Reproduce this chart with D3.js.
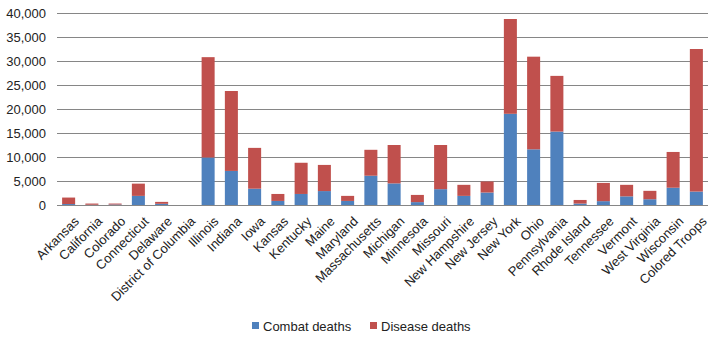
<!DOCTYPE html>
<html>
<head>
<meta charset="utf-8">
<script src="https://cdn.jsdelivr.net/npm/d3@7"></script>
<style>
  body { margin: 0; background: #fff; }
  svg { display: block; font-family: "Liberation Sans", Arial, sans-serif; }
</style>
</head>
<body>
<div class="chart"></div>
<script>
// states / groups along the x axis
const states = ["Arkansas", "California", "Colorado", "Connecticut", "Delaware",
  "District of Columbia", "Illinois", "Indiana", "Iowa", "Kansas", "Kentucky",
  "Maine", "Maryland", "Massachusetts", "Michigan", "Minnesota", "Missouri",
  "New Hampshire", "New Jersey", "New York", "Ohio", "Pennsylvania",
  "Rhode Island", "Tennessee", "Vermont", "West Virginia", "Wisconsin",
  "Colored Troops"];

// values
const combatDeaths = [200, 50, 100, 1900, 250, 0, 9900, 7100, 3400, 850, 2300,
  2900, 850, 6100, 4500, 600, 3300, 1900, 2600, 19000, 11600, 15300, 300, 800,
  1800, 1200, 3600, 2800];
const diseaseDeaths = [1350, 250, 200, 2550, 400, 0, 20900, 16650, 8500, 1450,
  6500, 5450, 1050, 5400, 8000, 1500, 9200, 2300, 2300, 19750, 19300, 11600,
  750, 3800, 2400, 1750, 7450, 29700];

const yTicks = [0, 5000, 10000, 15000, 20000, 25000, 30000, 35000, 40000];
const seriesNames = ["Combat deaths", "Disease deaths"];
const colors = ["#4f81bd", "#c0504d"];

const W = 720, H = 342;
const margin = { top: 13, right: 12, bottom: 137, left: 57 };
const width = W - margin.left - margin.right;
const height = H - margin.top - margin.bottom;

const svg = d3.select(".chart").append("svg")
  .attr("width", W)
  .attr("height", H);

const g = svg.append("g")
  .attr("transform", `translate(${margin.left},${margin.top})`);

const x = d3.scaleBand().domain(states).range([0, width]).paddingInner(0.44).paddingOuter(0.22);
const y = d3.scaleLinear().domain([0, 40000]).range([height, 0]);

// gridlines
g.selectAll(".grid")
  .data(yTicks)
  .enter().append("line")
  .attr("x1", 0)
  .attr("x2", width)
  .attr("y1", d => Math.round(y(d)) + 0.5)
  .attr("y2", d => Math.round(y(d)) + 0.5)
  .attr("stroke", "#868686")
  .attr("stroke-width", 1);

// y axis labels
const yAxis = g.append("g")
  .call(d3.axisLeft(y).tickValues(yTicks).tickFormat(d3.format(",")).tickSize(0).tickPadding(11));
yAxis.select(".domain").remove();
yAxis.selectAll("text")
  .attr("font-size", 13)
  .attr("font-family", "Liberation Sans, Arial, sans-serif")
  .attr("fill", "#222");

// stacked bars
const rows = states.map((s, i) => ({ state: s, combat: combatDeaths[i], disease: diseaseDeaths[i] }));
const stack = d3.stack().keys(["combat", "disease"])(rows);

g.selectAll(".series")
  .data(stack)
  .enter().append("g")
  .attr("fill", (d, i) => colors[i])
  .selectAll("rect")
  .data(d => d)
  .enter().append("rect")
  .attr("x", d => x(d.data.state))
  .attr("y", d => y(d[1]))
  .attr("height", d => y(d[0]) - y(d[1]))
  .attr("width", x.bandwidth());

// x axis
const xAxis = g.append("g")
  .attr("transform", `translate(0,${height})`)
  .call(d3.axisBottom(x).tickSize(0).tickPadding(0));
xAxis.select(".domain").remove();
xAxis.selectAll("text")
  .attr("font-size", 13)
  .attr("font-family", "Liberation Sans, Arial, sans-serif")
  .attr("fill", "#222")
  .attr("text-anchor", "end")
  .attr("dy", "0.35em")
  .attr("transform", "translate(8,14) rotate(-45)");

// legend
const legendX = [252, 370];
const legend = svg.selectAll(".legend")
  .data(seriesNames)
  .enter().append("g")
  .attr("transform", (d, i) => `translate(${legendX[i]},322)`);
legend.append("rect")
  .attr("width", 7)
  .attr("height", 7)
  .attr("fill", (d, i) => colors[i]);
legend.append("text")
  .attr("x", 11)
  .attr("y", 4)
  .attr("dy", "0.35em")
  .attr("font-size", 13)
  .attr("fill", "#222")
  .text(d => d);
</script>
</body>
</html>
